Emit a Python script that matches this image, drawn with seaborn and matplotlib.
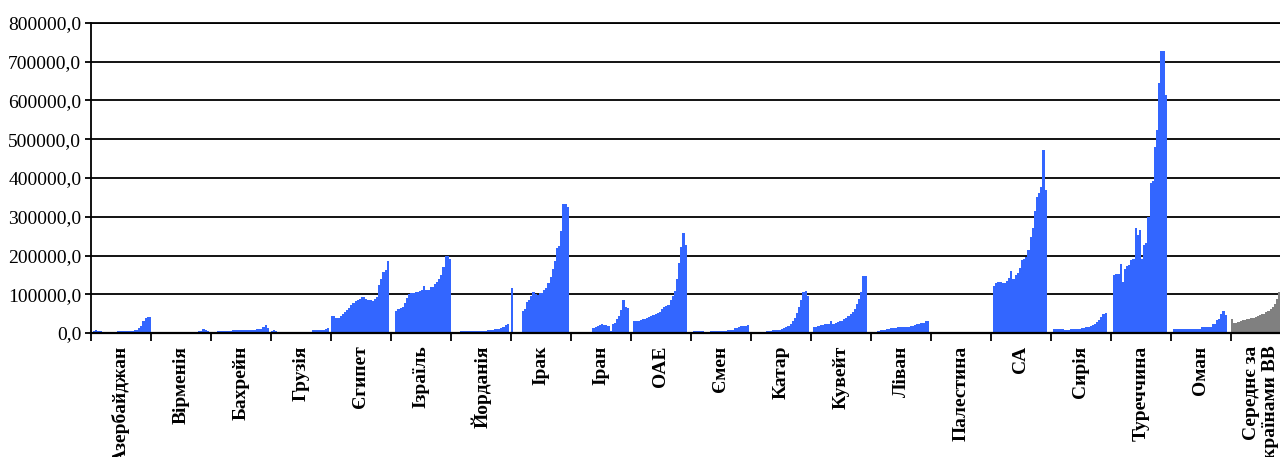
import numpy as np
import pandas as pd
import matplotlib
matplotlib.use("Agg")
import matplotlib.pyplot as plt
import seaborn as sns
from matplotlib.ticker import FuncFormatter, FixedLocator

nan = np.nan

countries = ["Азербайджан", "Вірменія", "Бахрейн", "Грузія", "Єгипет", "Ізраїль",
             "Йорданія", "Ірак", "Іран", "ОАЕ", "Ємен", "Катар", "Кувейт", "Ліван",
             "Палестина", "СА", "Сирія", "Туреччина", "Оман", "Середнє за\nкраїнами ВВ"]

azerbaijan = [nan, 6000, 6500, 6000, 5000, nan, nan, nan, nan, nan, nan, nan,
              4000, 4200, 4500, 4800, 5000, 5200, 5500, 6000, 6500,
              8000, 12000, 18000, 30000, 38000, 42000, 42000]
armenia = [nan] * 21 + [3500, 4000, 5000, 10000, 8000, 4000, nan]
bahrain = [nan, nan, nan, 5500, 5600, 5800, 6000, 6000, 6200, 6300, 6500, 6600, 6800,
           7000, 7000, 7200, 7500, 7800, 8000, 8500,
           9000, 9500, 10000, 11000, 16000, 20000, 12000, nan]
georgia = [6000, 8000, 6000] + [nan] * 16 + [7000, 7500, 8000, 8000, 9000, 9000, 10000, 13000, nan]
egypt = [43000, 43000, 40000, 40000, 44000, 50000, 55000, 60000, 65000, 72000,
         78000, 82000, 86000, 89000, 92000, 93000, 88000, 86000, 84000, 82000,
         87000, 92000, 125000, 140000, 158000, 162000, 187000, nan]
israel = [nan, nan, 58000, 62000, 64000, 68000, 78000, 90000, 100000, 103000,
          104000, 105000, 106000, 108000, 112000, 122000, 110000, 112000, 118000, 120000,
          126000, 132000, 140000, 150000, 170000, 200000, 198000, 190000]
jordan = [nan] * 4 + [4000, 4200, 4300, 4500, 4600, 4800, 5000, 5000, 5200, 5400, 5600, 5800,
                      6000, 6500, 9000, 9000, 9500, 9500, 10000, 12000, 16000, 20000, 22000, nan]
iraq = [117000, nan, nan, nan, nan, 58000, 62000, 80000, 85000, 95000,
        106000, 100000, 98000, 102000, 104000, 112000, 116000, 130000, 145000, 165000,
        185000, 220000, 225000, 262000, 333000, 333000, 325000, nan]
iran = [nan] * 10 + [12000, 16000, 19000, 21000, 22000, 21000, 20000, 19000, 6000,
                     24000, 26000, 35000, 45000, 60000, 85000, 66000, 64000, nan]
uae = [nan, 30000, 30000, 32000, 33000, 35000, 37000, 40000, 42000, 44000,
       46000, 50000, 52000, 55000, 62000, 66000, 70000, 72000, 85000, 95000,
       108000, 140000, 180000, 222000, 258000, 226000, nan, nan]
yemen = [nan, 4000, 5000, 5000, 4500, 4000, 2000, 2000, 2500, 4000,
         4200, 4400, 4600, 4800, 5000, 5200, 5500, 8000, 8500, 9000,
         13000, 14000, 15000, 17000, 18000, 19000, 20000, nan]
qatar = [nan, 3000, 3200, 3400, 3500, 3600, 3800, 4000, 4200, 6000,
         6500, 7000, 7500, 8000, 11000, 13000, 15000, 17000, 22000, 30000,
         40000, 52000, 68000, 85000, 105000, 108000, 96000, nan]
kuwait = [nan, 15000, 16000, 19000, 20000, 21000, 22000, 22000, 24000, 30000,
          24000, 25000, 28000, 30000, 32000, 36000, 40000, 45000, 50000, 55000,
          62000, 75000, 88000, 105000, 146000, 146000, nan, nan]
lebanon = [nan, 3000, 3500, 4500, 6500, 7500, 9000, 10500, 11000, 12000,
           13000, 14000, 15000, 15500, 15500, 16000, 16000, 16500, 17000, 19000,
           21000, 22000, 24000, 26000, 27000, 30000, 32000, nan]
palestine = [nan] * 28
saudi = [nan, 122000, 130000, 131000, 132000, 130000, 128000, 135000, 142000, 160000,
         140000, 150000, 155000, 168000, 188000, 190000, 195000, 215000, 248000, 272000,
         315000, 352000, 360000, 378000, 472000, 370000, nan, nan]
syria = [nan, 10000, 10500, 10000, 10000, 9500, 8500, 8500, 9000, 10000,
         10500, 11000, 11000, 11500, 12000, 14000, 15000, 16000, 19000, 21000,
         23000, 28000, 33000, 42000, 50000, 52000, nan, nan]
turkey = [nan, 150000, 151000, 153000, 178000, 132000, 165000, 172000, 176000, 188000,
          190000, 270000, 252000, 265000, 192000, 228000, 232000, 300000, 388000, 392000,
          481000, 524000, 645000, 727000, 727000, 615000, nan, nan]
oman = [nan, 9500, 9600, 9800, 10000, 10000, 10200, 10400, 10500, 10600,
        10800, 11000, 11000, 11500, 15000, 15000, 15500, 15500, 16000, 24000,
        24000, 34000, 35000, 48000, 57000, 46000, nan, nan]
average = [35000, 25000, 27000, 29000, 31000, 33000, 34000, 35000, 37000, 38000,
           40000, 42000, 44000, 46000, 48000, 50000, 53000, 57000, 62000, 68000,
           76000, 88000, 105000, 122000, 140000, 160000, 150000, nan]

series = [azerbaijan, armenia, bahrain, georgia, egypt, israel, jordan, iraq, iran, uae,
          yemen, qatar, kuwait, lebanon, palestine, saudi, syria, turkey, oman, average]

SLOTS = 28
rows = []
for g, vals in enumerate(series):
    for s, v in enumerate(vals):
        rows.append({"pos": g * SLOTS + s, "value": v,
                     "kind": "avg" if g == len(series) - 1 else "country"})
df = pd.DataFrame(rows)
n_total = SLOTS * len(series)

sns.set_theme(style="white")
plt.rcParams["font.family"] = ["Liberation Serif", "DejaVu Serif"]

fig = plt.figure(figsize=(12.8, 4.57), dpi=100)
ax = fig.add_axes([91 / 1280, 124 / 457, 1200 / 1280, 310 / 457])

sns.barplot(data=df, x="pos", y="value", hue="kind",
            palette={"country": "#3366ff", "avg": "#808080"},
            order=list(range(n_total)), hue_order=["country", "avg"],
            dodge=False, width=1.0, errorbar=None, linewidth=0,
            saturation=1, legend=False, ax=ax)

ax.set_xlim(-0.5, n_total - 0.5)
ax.set_ylim(0, 800000)
ax.yaxis.set_major_locator(FixedLocator(np.arange(0, 800001, 100000)))
ax.yaxis.set_major_formatter(FuncFormatter(lambda v, p: f"{v:.1f}".replace(".", ",")))
ax.set_axisbelow(True)
ax.grid(axis="y", color="black", linewidth=1.3)
ax.grid(axis="x", visible=False)

bounds = [g * SLOTS - 0.5 for g in range(len(series) + 1)]
centers = [g * SLOTS + SLOTS / 2 - 0.5 for g in range(len(series))]
ax.set_xticks(bounds)
ax.set_xticklabels([""] * len(bounds))
ax.set_xticks(centers, minor=True)
ax.set_xticklabels(countries, minor=True, rotation=90, fontweight="bold", fontsize=14,
                   va="top", ha="center", multialignment="right")
ax.tick_params(axis="x", which="major", bottom=True, length=6, width=1.3,
               color="black", direction="out")
ax.tick_params(axis="x", which="minor", bottom=True, length=0, pad=9, labelcolor="black")
ax.tick_params(axis="y", which="major", left=True, length=4, width=1.3, color="black",
               direction="out", labelsize=14, labelcolor="black", pad=3)
ax.set_xlabel("")
ax.set_ylabel("")

for side in ["left", "bottom", "top"]:
    ax.spines[side].set_visible(True)
    ax.spines[side].set_color("black")
ax.spines["left"].set_linewidth(1.3)
ax.spines["bottom"].set_linewidth(1.6)
ax.spines["top"].set_linewidth(1.3)
ax.spines["right"].set_visible(False)

fig.savefig("out.png", dpi=100)
